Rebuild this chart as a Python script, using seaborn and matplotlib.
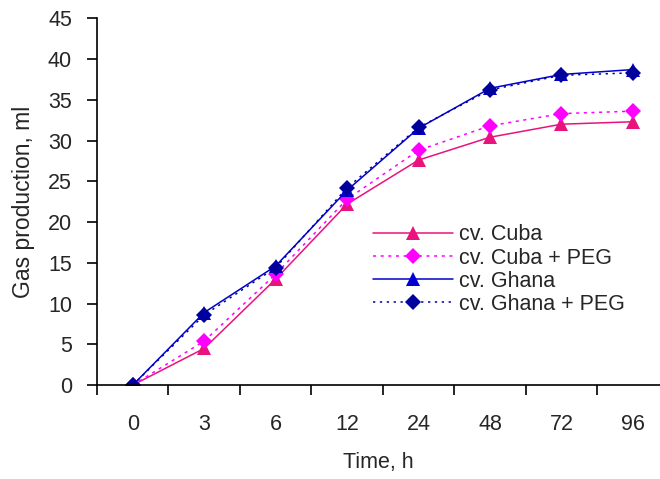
import numpy as np
import pandas as pd
import seaborn as sns
import matplotlib
matplotlib.use("Agg")
from matplotlib import pyplot as plt

# data
times = ["0", "3", "6", "12", "24", "48", "72", "96"]
cuba = [0, 4.5, 13.0, 22.2, 27.6, 30.4, 32.0, 32.3]
cuba_peg = [0, 5.4, 13.6, 22.8, 28.8, 31.8, 33.3, 33.6]
ghana = [0, 8.9, 14.6, 23.9, 31.5, 36.4, 38.1, 38.7]
ghana_peg = [0, 8.6, 14.4, 24.2, 31.6, 36.2, 38.0, 38.3]

names = ["cv. Cuba", "cv. Cuba + PEG", "cv. Ghana", "cv. Ghana + PEG"]
series = [cuba, cuba_peg, ghana, ghana_peg]

rows = []
for name, vals in zip(names, series):
    for i, v in enumerate(vals):
        rows.append({"pos": i, "time": times[i], "gas": v, "cv": name})
df = pd.DataFrame(rows)

sns.set_style("white")
plt.rcParams['font.family'] = ['Liberation Sans', 'DejaVu Sans']

colors = {"cv. Cuba": "#e8137d", "cv. Cuba + PEG": "#ff00ff",
          "cv. Ghana": "#0000d0", "cv. Ghana + PEG": "#00009c"}
markers = {"cv. Cuba": "^", "cv. Cuba + PEG": "D",
           "cv. Ghana": "^", "cv. Ghana + PEG": "D"}
dashes = {"cv. Cuba": "", "cv. Cuba + PEG": (2, 3),
          "cv. Ghana": "", "cv. Ghana + PEG": (1.5, 3)}

fig = plt.figure(figsize=(6.6, 4.79), dpi=100)
ax = fig.add_axes([0.147, 0.196, 0.853, 0.766])

sns.lineplot(data=df, x="pos", y="gas", hue="cv", style="cv",
             palette=colors, markers=markers, dashes=dashes,
             hue_order=names, style_order=names,
             markersize=8, markeredgewidth=0, linewidth=1.1, ax=ax)

# triangles a bit bigger, like the reference
for ln in ax.lines:
    if ln.get_marker() == "^":
        ln.set_markersize(10)

ax.set_xlim(-0.5, 7.38)
ax.set_ylim(0, 45)
ax.set_xticks(np.arange(len(times)) - 0.5)
ax.set_xticklabels([])
ax.set_xticks(np.arange(len(times)), minor=True)
ax.set_xticklabels(times, minor=True)
ax.set_yticks(np.arange(0, 46, 5))

ax.tick_params(axis="x", which="major", direction="out", length=7, width=1.2,
               color="black", bottom=True)
ax.tick_params(axis="x", which="minor", length=0, pad=21, labelsize=15.5)
ax.tick_params(axis="y", direction="out", length=7, width=1.2, color="black",
               left=True, pad=11, labelsize=15.5)

for s in ["top", "right"]:
    ax.spines[s].set_visible(False)
for s in ["left", "bottom"]:
    ax.spines[s].set_color("black")
    ax.spines[s].set_linewidth(1.2)

ax.set_xlabel("Time, h", fontsize=15.5, labelpad=12)
ax.set_ylabel("Gas production, ml", fontsize=16.5, labelpad=9)

leg = ax.legend(loc="upper left", bbox_to_anchor=(0.49, 0.438), frameon=False,
                fontsize=15.5, handlelength=3.7, handletextpad=0.3,
                labelspacing=0.1, borderaxespad=0, borderpad=0)
for h in leg.get_lines():
    if h.get_marker() == "^":
        h.set_markersize(10)

fig.savefig("out.png", dpi=100)
